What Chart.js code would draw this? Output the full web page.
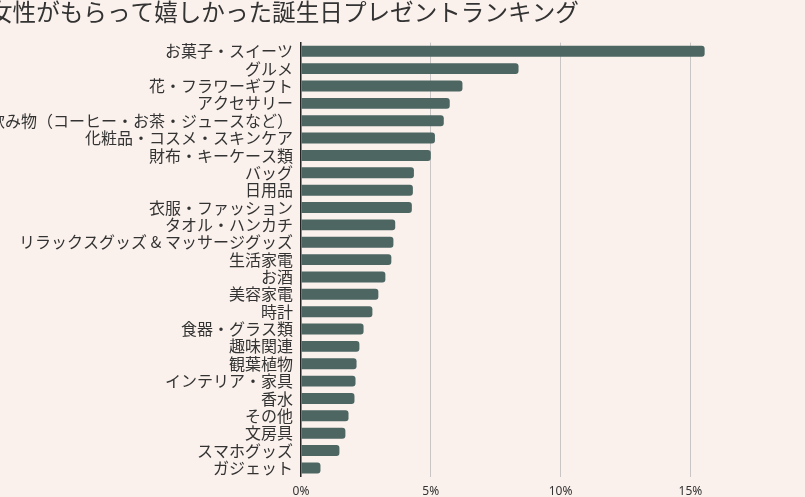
<!DOCTYPE html>
<html lang="ja">
<head>
    <meta charset="UTF-8">
    <title>女性がもらって嬉しかった誕生日プレゼントランキング</title>
    <script src="https://cdn.jsdelivr.net/npm/chart.js"></script>
    <style>
        html, body {
            margin: 0;
            padding: 0;
            background-color: #faf1ec;
            overflow: hidden;
        }
        .chart-wrap {
            position: absolute;
            left: -11px;
            top: 0;
            width: 851px;
            height: 507px;
        }
    </style>
</head>
<body>
    <div class="chart-wrap">
        <canvas id="giftChart"></canvas>
    </div>

    <script>
        const categories = [
            'お菓子・スイーツ', 'グルメ', '花・フラワーギフト', 'アクセサリー',
            '飲み物（コーヒー・お茶・ジュースなど）', '化粧品・コスメ・スキンケア', '財布・キーケース類',
            'バッグ', '日用品', '衣服・ファッション', 'タオル・ハンカチ',
            'リラックスグッズ & マッサージグッズ', '生活家電', 'お酒', '美容家電', '時計',
            '食器・グラス類', '趣味関連', '観葉植物', 'インテリア・家具', '香水',
            'その他', '文房具', 'スマホグッズ', 'ガジェット'
        ];
        const shares = [
            15.55, 8.38, 6.22, 5.73, 5.5, 5.16, 5.0,
            4.35, 4.31, 4.27, 3.63,
            3.56, 3.48, 3.25, 2.98, 2.75,
            2.41, 2.25, 2.14, 2.1, 2.06,
            1.83, 1.71, 1.48, 0.75
        ];
        const xTicks = [0, 5, 10, 15, 20];

        const ctx = document.getElementById('giftChart').getContext('2d');
        new Chart(ctx, {
            type: 'bar',
            data: {
                labels: categories,
                datasets: [{
                    data: shares,
                    backgroundColor: '#4d6662',
                    borderRadius: 3,
                    barPercentage: 0.7,
                    categoryPercentage: 0.9
                }]
            },
            options: {
                indexAxis: 'y',
                responsive: true,
                maintainAspectRatio: false,
                animation: false,
                layout: { padding: 0 },
                plugins: {
                    legend: { display: false },
                    tooltip: { enabled: false },
                    title: {
                        display: true,
                        text: '女性がもらって嬉しかった誕生日プレゼントランキング',
                        align: 'start',
                        color: '#333333',
                        font: { family: '"Noto Sans CJK JP"', size: 23.6, weight: 'normal', lineHeight: 1.0 },
                        padding: { top: 0, bottom: 19 }
                    }
                },
                scales: {
                    x: {
                        min: 0,
                        max: 20,
                        afterBuildTicks: scale => {
                            scale.ticks = xTicks.map(v => ({ value: v }));
                        },
                        grid: {
                            color: ctx => ctx.tick && ctx.tick.value === 0 ? 'rgba(0,0,0,0)' : '#c9c5c4',
                            lineWidth: 1,
                            drawTicks: false
                        },
                        border: { display: false },
                        ticks: {
                            padding: 8,
                            color: '#333333',
                            font: { family: '"Noto Sans", sans-serif', size: 12 },
                            callback: v => v + '%'
                        }
                    },
                    y: {
                        afterFit: scale => { scale.width = 312; },
                        grid: { display: false, drawTicks: false },
                        border: { display: true, color: '#222222', width: 1.5 },
                        ticks: {
                            padding: 8,
                            color: '#333333',
                            autoSkip: false,
                            font: { family: '"Noto Sans CJK JP"', size: 16 }
                        }
                    }
                }
            }
        });
    </script>
</body>
</html>
